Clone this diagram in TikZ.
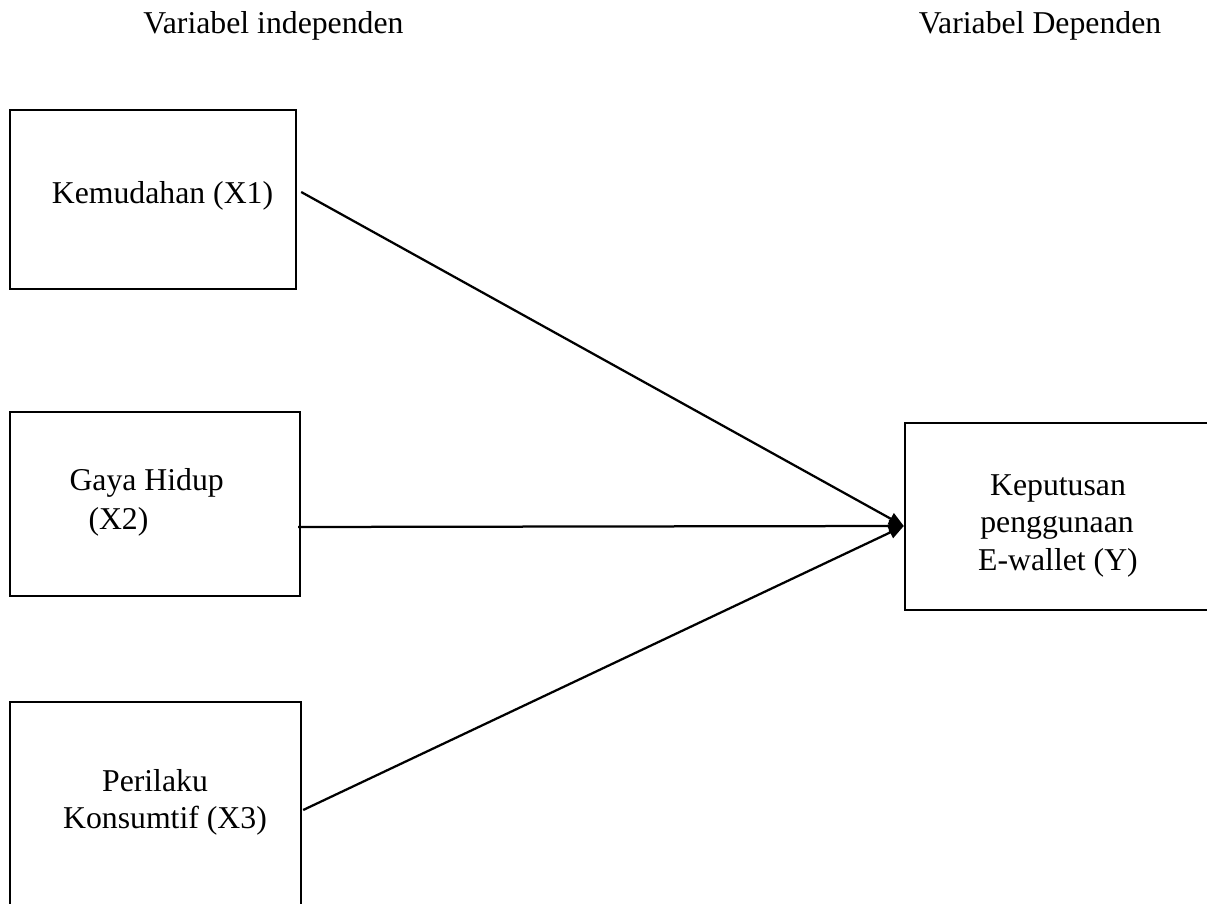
\documentclass[tikz,border=0pt]{standalone}
\usepackage{fontspec}
\setmainfont{Liberation Serif}
\usetikzlibrary{arrows.meta}
\begin{document}
\begin{tikzpicture}[x=0.4pt,y=-0.4pt,
  box/.style={draw,line width=0.95pt,rectangle,inner sep=0pt},
  lbl/.style={font=\fontsize{12.7}{15}\selectfont,inner sep=0pt,anchor=base},
  conn/.style={line width=0.9pt,-{Triangle[length=6pt,width=5pt]}}]
\useasboundingbox (0,0) rectangle (1207,904);
% headers
\node[lbl] (h1) at (273.5,34) {Variabel independen};
\node[lbl] (h2) at (1040,34) {Variabel Dependen};
% boxes
\node[box,minimum width=114.4pt,minimum height=71.6pt] (x1) at (153,199.5) {};
\node[box,minimum width=116pt,minimum height=73.6pt] (x2) at (155,504) {};
\node[box,minimum width=116.4pt,minimum height=95.2pt] (x3) at (155.5,821) {};
\node[box,minimum width=134pt,minimum height=74.8pt] (y) at (1072.5,516.5) {};
% box texts
\node[lbl] (t1) at (162.5,204) {Kemudahan (X1)};
\node[lbl,anchor=base west] (t2a) at (69,491) {Gaya Hidup};
\node[lbl,anchor=base west] (t2b) at (88,530) {(X2)};
\node[lbl] (t3a) at (155,792) {Perilaku};
\node[lbl] (t3b) at (165,829) {Konsumtif (X3)};
\node[lbl] (t4a) at (1058,496) {Keputusan};
\node[lbl] (t4b) at (1057,533) {penggunaan};
\node[lbl] (t4c) at (1058,571) {E-wallet (Y)};
% connectors
\draw[conn] ([xshift=1.6pt,yshift=3pt]x1.east) -- ([yshift=-3.8pt]y.west);
\draw[conn] ([xshift=-1.2pt,yshift=-9.2pt]x2.east) -- ([yshift=-3.8pt]y.west);
\draw[conn] ([xshift=0.4pt,yshift=4.4pt]x3.east) -- ([yshift=-3.8pt]y.west);
\end{tikzpicture}
\end{document}
